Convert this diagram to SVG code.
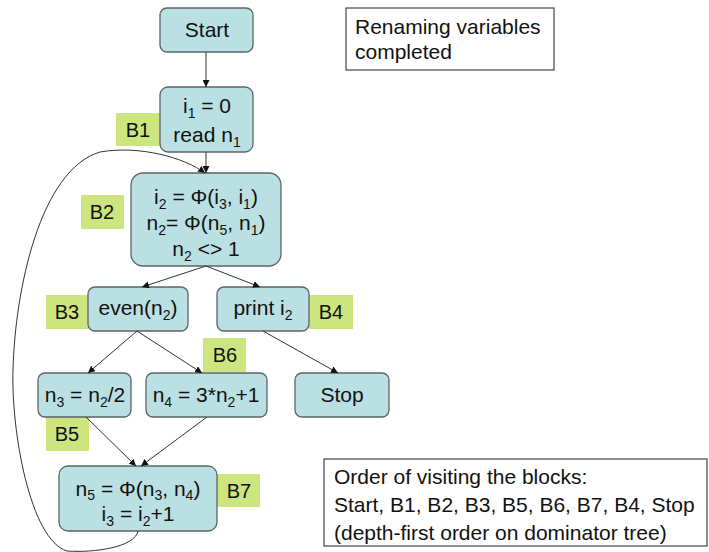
<svg xmlns="http://www.w3.org/2000/svg" width="709" height="552" viewBox="0 0 709 552">
  <style>
    text { font-family: "Liberation Sans", Arial, sans-serif; font-size: 21px; fill: #111; }
    .c { text-anchor: middle; }
    .sub { font-size: 14px; }
    .box { fill: #bbe0e3; stroke: #5b6466; stroke-width: 1.3; }
    .tag { fill: #cde57e; }
    .tag-t { font-size: 20px; text-anchor: middle; }
    .note { fill: #fff; stroke: #444; stroke-width: 1.2; }
    .edge { fill: none; stroke: #333; stroke-width: 1; marker-end: url(#arr); }
  </style>
  <defs>
    <marker id="arr" viewBox="0 0 10 10" refX="10" refY="5" markerWidth="7" markerHeight="7" markerUnits="userSpaceOnUse" orient="auto">
      <path d="M0,0 L10,5 L0,10 z" fill="#111"/>
    </marker>
  </defs>
  <rect width="709" height="552" fill="#fff"/>

  <!-- notes -->
  <g id="note-renaming">
    <rect class="note" x="346" y="8" width="208" height="62"/>
    <text x="355" y="34">Renaming variables</text>
    <text x="355" y="59">completed</text>
  </g>
  <g id="note-order">
    <rect class="note" x="324" y="459" width="383" height="87"/>
    <text x="334" y="484">Order of visiting the blocks:</text>
    <text x="334" y="512">Start, B1, B2, B3, B5, B6, B7, B4, Stop</text>
    <text x="334" y="540">(depth-first order on dominator tree)</text>
  </g>

  <!-- blocks -->
  <g id="start">
    <rect class="box" x="160" y="8" width="93" height="44" rx="7"/>
    <text class="c" x="207" y="37">Start</text>
  </g>
  <g id="b1">
    <rect class="tag" x="116" y="113" width="44" height="33"/>
    <text class="tag-t" x="138" y="137">B1</text>
    <rect class="box" x="160" y="87" width="93" height="65" rx="8"/>
    <text class="c" x="207" y="113">i<tspan class="sub" dy="5">1</tspan><tspan dy="-5"> = 0</tspan></text>
    <text class="c" x="207" y="142">read n<tspan class="sub" dy="5">1</tspan></text>
  </g>
  <g id="b2">
    <rect class="tag" x="81" y="195" width="43" height="34"/>
    <text class="tag-t" x="102" y="219">B2</text>
    <rect class="box" x="131" y="173" width="150" height="93" rx="12"/>
    <text class="c" x="206" y="204">i<tspan class="sub" dy="5">2</tspan><tspan dy="-5"> = Φ(i</tspan><tspan class="sub" dy="5">3</tspan><tspan dy="-5">, i</tspan><tspan class="sub" dy="5">1</tspan><tspan dy="-5">)</tspan></text>
    <text class="c" x="206" y="230">n<tspan class="sub" dy="5">2</tspan><tspan dy="-5">= Φ(n</tspan><tspan class="sub" dy="5">5</tspan><tspan dy="-5">, n</tspan><tspan class="sub" dy="5">1</tspan><tspan dy="-5">)</tspan></text>
    <text class="c" x="206" y="256">n<tspan class="sub" dy="5">2</tspan><tspan dy="-5"> &lt;&gt; 1</tspan></text>
  </g>
  <g id="b3">
    <rect class="tag" x="46" y="295" width="43" height="34"/>
    <text class="tag-t" x="67" y="319">B3</text>
    <rect class="box" x="88" y="287" width="100" height="44" rx="7"/>
    <text class="c" x="138" y="315">even(n<tspan class="sub" dy="5">2</tspan><tspan dy="-5">)</tspan></text>
  </g>
  <g id="b4">
    <rect class="tag" x="309" y="295" width="44" height="34"/>
    <text class="tag-t" x="331" y="319">B4</text>
    <rect class="box" x="217" y="287" width="92" height="44" rx="7"/>
    <text class="c" x="263" y="315">print i<tspan class="sub" dy="5">2</tspan></text>
  </g>
  <g id="b5">
    <rect class="tag" x="46" y="417" width="43" height="34"/>
    <text class="tag-t" x="67" y="441">B5</text>
    <rect class="box" x="38" y="373" width="93" height="44" rx="7"/>
    <text class="c" x="85" y="402">n<tspan class="sub" dy="5">3</tspan><tspan dy="-5"> = n</tspan><tspan class="sub" dy="5">2</tspan><tspan dy="-5">/2</tspan></text>
  </g>
  <g id="b6">
    <rect class="tag" x="203" y="338" width="43" height="34"/>
    <text class="tag-t" x="225" y="362">B6</text>
    <rect class="box" x="146" y="373" width="121" height="44" rx="7"/>
    <text class="c" x="206" y="402">n<tspan class="sub" dy="5">4</tspan><tspan dy="-5"> = 3*n</tspan><tspan class="sub" dy="5">2</tspan><tspan dy="-5">+1</tspan></text>
  </g>
  <g id="stop">
    <rect class="box" x="295" y="373" width="94" height="44" rx="7"/>
    <text class="c" x="342" y="402">Stop</text>
  </g>
  <g id="b7">
    <rect class="tag" x="217" y="474" width="43" height="33"/>
    <text class="tag-t" x="239" y="498">B7</text>
    <rect class="box" x="59" y="466" width="158" height="65" rx="9"/>
    <text class="c" x="138" y="496">n<tspan class="sub" dy="4">5</tspan><tspan dy="-4"> = Φ(n</tspan><tspan class="sub" dy="4">3</tspan><tspan dy="-4">, n</tspan><tspan class="sub" dy="4">4</tspan><tspan dy="-4">)</tspan></text>
    <text class="c" x="138" y="521">i<tspan class="sub" dy="5">3</tspan><tspan dy="-5"> = i</tspan><tspan class="sub" dy="5">2</tspan><tspan dy="-5">+1</tspan></text>
  </g>

  <!-- control-flow edges -->
  <g id="edges">
    <path class="edge" d="M206,52 L206,87"/>
    <path class="edge" d="M206,152 L206,173"/>
    <path class="edge" d="M206,266 L142,287"/>
    <path class="edge" d="M206,266 L260,287"/>
    <path class="edge" d="M137,331 L88,373"/>
    <path class="edge" d="M137,331 L202,373"/>
    <path class="edge" d="M263,331 L338,373"/>
    <path class="edge" d="M86,417 L136,466"/>
    <path class="edge" d="M207,417 L141,466"/>
    <path class="edge" d="M138,531 C135,547 95,553 67,551 C30,540 11,430 13,370 C15,290 40,170 100,152 C140,145 185,158 205,173"/>
  </g>
</svg>
